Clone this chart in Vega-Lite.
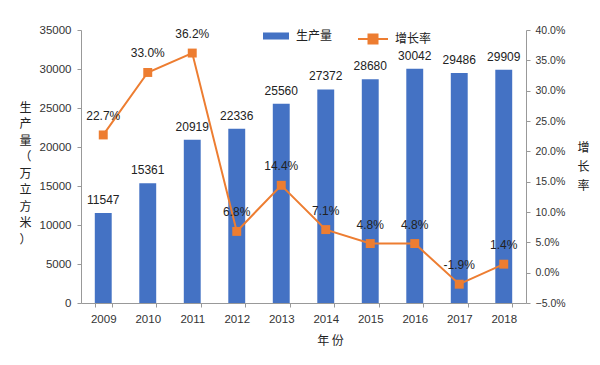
{
  "$schema": "https://vega.github.io/schema/vega-lite/v6.json",
  "autosize": "none",
  "padding": {"left": 81, "top": 30, "right": 74, "bottom": 62},
  "width": 445,
  "height": 273,
  "background": "white",
  "config": {
    "view": {"stroke": null},
    "font": "Liberation Sans",
    "axis": {"labelFont": "Liberation Sans", "labelFontSize": 11, "labelColor": "#333", "labelOverlap": false, "titleFont": "Noto Sans CJK SC", "titleFontWeight": "normal", "titleFontSize": 11, "titleColor": "#222", "domainColor": "#999", "tickColor": "#999", "grid": false},
    "legend": {"labelFont": "Noto Sans CJK SC", "labelFontSize": 11, "labelColor": "#222"}
  },
  "data": {"values": [
    {"year": "2009", "prod": 11547, "rate": 0.227, "rl": "22.7%", "s1": "生产量", "s2": "增长率"},
    {"year": "2010", "prod": 15361, "rate": 0.330, "rl": "33.0%", "s1": "生产量", "s2": "增长率"},
    {"year": "2011", "prod": 20919, "rate": 0.362, "rl": "36.2%", "s1": "生产量", "s2": "增长率"},
    {"year": "2012", "prod": 22336, "rate": 0.068, "rl": "6.8%", "s1": "生产量", "s2": "增长率"},
    {"year": "2013", "prod": 25560, "rate": 0.144, "rl": "14.4%", "s1": "生产量", "s2": "增长率"},
    {"year": "2014", "prod": 27372, "rate": 0.071, "rl": "7.1%", "s1": "生产量", "s2": "增长率"},
    {"year": "2015", "prod": 28680, "rate": 0.048, "rl": "4.8%", "s1": "生产量", "s2": "增长率"},
    {"year": "2016", "prod": 30042, "rate": 0.048, "rl": "4.8%", "s1": "生产量", "s2": "增长率"},
    {"year": "2017", "prod": 29486, "rate": -0.019, "rl": "-1.9%", "s1": "生产量", "s2": "增长率"},
    {"year": "2018", "prod": 29909, "rate": 0.014, "rl": "1.4%", "s1": "生产量", "s2": "增长率"}
  ]},
  "encoding": {
    "x": {"field": "year", "type": "ordinal", "scale": {"paddingInner": 0.62, "paddingOuter": 0.31},
      "axis": {"labelAngle": 0, "tickBand": "extent", "tickSize": 4, "labelPadding": 6, "labelFontSize": 11.5,
        "title": "年 份", "titleX": 249, "titleY": 32, "titleBaseline": "top", "titleFontSize": 12}}
  },
  "layer": [
    {
      "layer": [
        {
          "mark": {"type": "bar"},
          "encoding": {
            "y": {"field": "prod", "type": "quantitative", "scale": {"domain": [0, 35000]},
              "axis": {"values": [0,5000,10000,15000,20000,25000,30000,35000], "tickCount": 20, "labelOverlap": false, "format": "d", "tickSize": 4, "labelPadding": 6, "labelFontSize": 11.5,
                "title": ["生","产","量","（","万","立","方","米","）"], "titleAngle": 0, "titleAlign": "center", "titleBaseline": "top",
                "titleX": -56, "titleY": 72, "titleLineHeight": 16.5, "titleFontSize": 12}},
            "fill": {"field": "s1", "type": "nominal", "scale": {"range": ["#4472C4"]},
              "legend": {"title": null, "orient": "none", "legendX": 182, "legendY": -7,
                "symbolType": "M-1,-0.27H1V0.27H-1Z", "symbolSize": 676, "symbolStrokeWidth": 0, "labelFontSize": 12, "labelOffset": 7}}
          }
        },
        {
          "mark": {"type": "text", "dy": -6, "baseline": "bottom", "fontSize": 12, "color": "#222", "font": "Liberation Sans"},
          "encoding": {
            "y": {"field": "prod", "type": "quantitative"},
            "text": {"field": "prod", "type": "quantitative", "format": "d"}
          }
        }
      ]
    },
    {
      "layer": [
        {
          "mark": {"type": "line", "strokeWidth": 2},
          "encoding": {
            "y": {"field": "rate", "type": "quantitative", "scale": {"domain": [-0.05, 0.4]},
              "axis": {"orient": "right", "format": ".1%", "values": [-0.05,0,0.05,0.1,0.15,0.2,0.25,0.3,0.35,0.4], "tickCount": 20, "labelOverlap": false, "tickSize": 4, "labelPadding": 5, "labelFontSize": 10.5,
                "title": ["增","长","率"], "titleAngle": 0, "titleAlign": "center", "titleBaseline": "top",
                "titleX": 57, "titleY": 112, "titleLineHeight": 19, "titleFontSize": 12}},
            "stroke": {"field": "s2", "type": "nominal", "scale": {"range": ["#ED7D31"]},
              "legend": {"title": null, "orient": "none", "legendX": 276, "legendY": -7,
                "symbolType": "M-1,0H1M-0.3,-0.3H0.3V0.3H-0.3Z", "symbolSize": 900, "symbolFillColor": "#ED7D31", "symbolStrokeWidth": 2, "labelFontSize": 12, "labelOffset": 6}}
          }
        },
        {
          "mark": {"type": "point", "shape": "square", "filled": true, "size": 80, "color": "#ED7D31", "opacity": 1},
          "encoding": {"y": {"field": "rate", "type": "quantitative"}}
        },
        {
          "mark": {"type": "text", "dy": -12, "baseline": "bottom", "fontSize": 12, "color": "#222", "font": "Liberation Sans"},
          "encoding": {
            "y": {"field": "rate", "type": "quantitative"},
            "text": {"field": "rl", "type": "nominal"}
          }
        }
      ]
    }
  ],
  "resolve": {"scale": {"y": "independent", "fill": "independent", "stroke": "independent"}}
}
